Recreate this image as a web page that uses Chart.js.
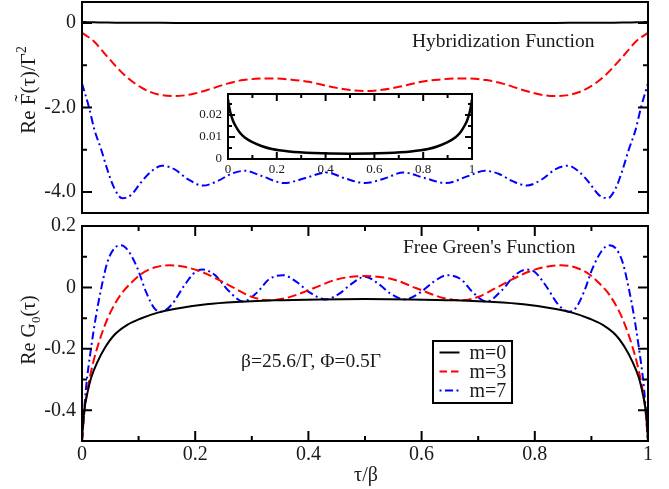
<!DOCTYPE html>
<html>
<head>
<meta charset="utf-8">
<script src="https://cdn.jsdelivr.net/npm/chart.js@4.4.0/dist/chart.umd.min.js"></script>
<style>
  html, body { margin:0; padding:0; background:#fff; }
  #wrap { position:relative; width:669px; height:489px; overflow:hidden; background:#fff; }
  canvas { position:absolute; }
</style>
</head>
<body>
<div id="wrap">
  <canvas id="chart-top" width="669" height="220" style="left:0;top:0;width:669px;height:220px"></canvas>
  <canvas id="chart-bot" width="669" height="274" style="left:0;top:215px;width:669px;height:274px"></canvas>
  <canvas id="chart-inset" width="300" height="100" style="left:180px;top:84px;width:300px;height:100px"></canvas>
</div>
<script>
// ---- data ----
// hybridization function, m=0 (also shown in the inset)
const F0_TAU = [0, 0.005, 0.01, 0.02, 0.03, 0.045, 0.06, 0.08, 0.1, 0.14, 0.18, 0.25, 0.35, 0.5,
                0.65, 0.75, 0.82, 0.86, 0.9, 0.92, 0.94, 0.955, 0.97, 0.98, 0.99, 0.995, 1]
const F0     = [0.027, 0.0235, 0.021, 0.0175, 0.0152, 0.0125, 0.0106, 0.0089, 0.0077, 0.0058, 0.0045, 0.0034, 0.0027, 0.0024,
                0.0027, 0.0034, 0.0045, 0.0058, 0.0077, 0.0089, 0.0106, 0.0125, 0.0152, 0.0175, 0.021, 0.0235, 0.027]
// m=3
const F3_TAU = [0, 0.02, 0.045, 0.075, 0.105, 0.135, 0.165, 0.195, 0.225, 0.255, 0.285, 0.333, 0.37, 0.4, 0.44, 0.47, 0.5,
                0.53, 0.56, 0.6, 0.63, 0.667, 0.715, 0.745, 0.775, 0.805, 0.835, 0.865, 0.895, 0.925, 0.955, 0.98, 1]
const F3     = [-0.23, -0.42, -0.8, -1.23, -1.53, -1.69, -1.73, -1.68, -1.57, -1.44, -1.35, -1.31, -1.34, -1.39, -1.51, -1.58, -1.61,
                -1.58, -1.51, -1.39, -1.34, -1.31, -1.35, -1.44, -1.57, -1.68, -1.73, -1.69, -1.53, -1.23, -0.8, -0.42, -0.23]
// m=7
const F7_TAU = [0, 0.012, 0.022, 0.034, 0.045, 0.057, 0.071, 0.087, 0.104, 0.122, 0.141, 0.163, 0.187, 0.214, 0.24, 0.264,
                0.288, 0.317, 0.357, 0.395, 0.432, 0.467, 0.5, 0.533, 0.568, 0.605, 0.643, 0.683, 0.712, 0.736, 0.76,
                0.786, 0.813, 0.837, 0.859, 0.878, 0.896, 0.913, 0.929, 0.943, 0.955, 0.966, 0.978, 0.988, 1]
const F7     = [-1.43, -1.98, -2.53, -3.0, -3.48, -3.91, -4.15, -4.07, -3.78, -3.52, -3.38, -3.46, -3.7, -3.85, -3.74, -3.57,
                -3.5, -3.62, -3.79, -3.67, -3.54, -3.69, -3.79, -3.69, -3.54, -3.67, -3.79, -3.62, -3.5, -3.57, -3.74,
                -3.85, -3.7, -3.46, -3.38, -3.52, -3.78, -4.07, -4.15, -3.91, -3.48, -3.0, -2.53, -1.98, -1.43]

// free Green's function
const G0_TAU = [0, 0.002, 0.004, 0.01, 0.016, 0.028, 0.04, 0.057, 0.08, 0.104, 0.134, 0.163, 0.22, 0.28, 0.34, 0.42, 0.5,
                0.58, 0.66, 0.72, 0.78, 0.837, 0.866, 0.896, 0.92, 0.943, 0.96, 0.972, 0.984, 0.99, 0.996, 0.998, 1]
const G0     = [-0.5, -0.44, -0.4, -0.34, -0.295, -0.24, -0.198, -0.155, -0.122, -0.101, -0.082, -0.07, -0.055, -0.047, -0.042, -0.039, -0.038,
                -0.039, -0.042, -0.047, -0.055, -0.07, -0.082, -0.101, -0.122, -0.155, -0.198, -0.24, -0.295, -0.34, -0.4, -0.44, -0.5]
const G3_TAU = [0, 0.004, 0.01, 0.019, 0.028, 0.04, 0.051, 0.069, 0.087, 0.104, 0.128, 0.154, 0.181, 0.211, 0.24, 0.27, 0.299, 0.33,
                0.36, 0.41, 0.45, 0.5, 0.55, 0.59, 0.64, 0.67, 0.701, 0.73, 0.76, 0.789, 0.819, 0.846, 0.872, 0.896,
                0.913, 0.931, 0.949, 0.96, 0.972, 0.981, 0.99, 0.996, 1]
const G3     = [-0.5, -0.41, -0.33, -0.25, -0.19, -0.125, -0.078, -0.022, 0.015, 0.043, 0.065, 0.072, 0.067, 0.051, 0.026, -0.003, -0.03, -0.042,
                -0.035, -0.002, 0.026, 0.037, 0.026, -0.002, -0.035, -0.042, -0.03, -0.003, 0.026, 0.051, 0.067, 0.072, 0.065, 0.043,
                0.015, -0.022, -0.078, -0.125, -0.19, -0.25, -0.33, -0.41, -0.5]
const G7_TAU = [0, 0.007, 0.016, 0.025, 0.034, 0.045, 0.057, 0.069, 0.081, 0.098, 0.113, 0.128, 0.14, 0.158, 0.181, 0.2, 0.214,
                0.235, 0.258, 0.285, 0.31, 0.33, 0.355, 0.379, 0.402, 0.43, 0.455, 0.475, 0.5, 0.525, 0.545, 0.57, 0.598,
                0.621, 0.645, 0.67, 0.69, 0.715, 0.742, 0.765, 0.786, 0.8, 0.819, 0.842, 0.86, 0.872, 0.887, 0.902, 0.919,
                0.931, 0.943, 0.955, 0.966, 0.975, 0.984, 0.993, 1]
const G7     = [-0.5, -0.33, -0.198, -0.09, -0.003, 0.083, 0.127, 0.137, 0.121, 0.062, -0.014, -0.068, -0.079, -0.057, 0.007, 0.05, 0.058,
                0.04, -0.009, -0.046, -0.015, 0.026, 0.04, 0.018, -0.016, -0.039, -0.02, 0.01, 0.035, 0.01, -0.02, -0.039, -0.016,
                0.018, 0.04, 0.026, -0.015, -0.046, -0.009, 0.04, 0.058, 0.05, 0.007, -0.057, -0.079, -0.068, -0.014, 0.062, 0.121,
                0.137, 0.127, 0.083, -0.003, -0.09, -0.198, -0.33, -0.5]

// ticks
const X_MAJOR     = [0, 0.2, 0.4, 0.6, 0.8, 1]
const X_MINOR     = [0.1, 0.3, 0.5, 0.7, 0.9]
const TOP_Y_MAJOR = [0, -2, -4]
const TOP_Y_MINOR = [-1, -3]
const BOT_Y_MAJOR = [0.2, 0, -0.2, -0.4]
const BOT_Y_MINOR = [0.1, -0.1, -0.3]
const INS_Y_MAJOR = [0, 0.01, 0.02]
const INS_Y_MINOR = [0.005, 0.015, 0.025]

const LEGEND = ['m=0', 'm=3', 'm=7']

const FONT = "'Liberation Serif', 'Times New Roman', serif"
const INK = '#1a1a1a'
const RED_DASH = [9, 4]
const BLUE_DASH = [8, 3.5, 2, 3.5]

const pts = (xs, ys) => xs.map((x, i) => ({ x, y: ys[i] }))
const line = (xs, ys, color, dash, label, w = 2) => ({
  label, data: pts(xs, ys), borderColor: color, borderDash: dash, borderWidth: w,
  pointRadius: 0, fill: false, cubicInterpolationMode: 'monotone',
})
const numLabel = d => v => v === 0 ? '0' : (v === 1 ? '1' : v.toFixed(d))

// frame with inward ticks on every side
const frame = {
  id: 'frame',
  afterDatasetsDraw(chart, args, o) {
    const { ctx, chartArea: a, scales: { x, y } } = chart
    ctx.save()
    ctx.strokeStyle = '#000'
    ctx.lineWidth = o.width
    ctx.setLineDash([])
    ctx.beginPath()
    const xt = (vals, len) => vals.forEach(v => {
      const p = x.getPixelForValue(v)
      ctx.moveTo(p, a.bottom); ctx.lineTo(p, a.bottom - len)
      ctx.moveTo(p, a.top);    ctx.lineTo(p, a.top + len)
    })
    const yt = (vals, len) => vals.forEach(v => {
      const p = y.getPixelForValue(v)
      ctx.moveTo(a.left, p);  ctx.lineTo(a.left + len, p)
      ctx.moveTo(a.right, p); ctx.lineTo(a.right - len, p)
    })
    xt(o.xMajor || [], o.major); xt(o.xMinor || [], o.minor)
    yt(o.yMajor || [], o.major); yt(o.yMinor || [], o.minor)
    ctx.stroke()
    ctx.strokeRect(a.left, a.top, a.right - a.left, a.bottom - a.top)
    ctx.restore()
  }
}

function drawRich(ctx, n) {
  const size = n.size
  const parts = typeof n.text === 'string' ? [{ t: n.text }] : n.text
  const fontOf = p => `${(p.sub || p.sup) ? size * 0.65 : size}px ${FONT}`
  let total = 0
  const widths = parts.map(p => { ctx.font = fontOf(p); const w = ctx.measureText(p.t).width; total += w; return w })
  ctx.save()
  ctx.translate(n.x, n.y)
  if (n.rot) ctx.rotate(n.rot)
  ctx.fillStyle = INK
  ctx.textBaseline = 'alphabetic'
  ctx.textAlign = 'left'
  let x = n.align === 'center' ? -total / 2 : 0
  const base = size * 0.33
  parts.forEach((p, i) => {
    ctx.font = fontOf(p)
    const dy = p.sub ? size * 0.25 : (p.sup ? -size * 0.42 : 0)
    ctx.fillText(p.t, x, base + dy)
    if (p.tilde) {
      ctx.font = `${size}px ${FONT}`
      ctx.textAlign = 'center'
      ctx.fillText('\u02DC', x + widths[i] / 2 + 1, base - size * 0.3)
      ctx.textAlign = 'left'
    }
    x += widths[i]
  })
  ctx.restore()
}

const notes = {
  id: 'notes',
  afterDraw(chart, args, o) {
    (o.items || []).forEach(n => drawRich(chart.ctx, n))
    if (o.legend) {
      const { ctx } = chart, L = o.legend
      ctx.save()
      ctx.fillStyle = '#fff'
      ctx.fillRect(L.x, L.y, L.w, L.h)
      ctx.strokeStyle = '#000'; ctx.lineWidth = 2; ctx.setLineDash([])
      ctx.strokeRect(L.x, L.y, L.w, L.h)
      chart.data.datasets.forEach((ds, i) => {
        const yy = L.y + L.row0 + i * L.step
        ctx.strokeStyle = ds.borderColor
        ctx.lineWidth = 2
        ctx.setLineDash(L.dashes[i])
        ctx.beginPath(); ctx.moveTo(L.x + 6.5, yy); ctx.lineTo(L.x + 26.5, yy); ctx.stroke()
        ctx.setLineDash([])
        ctx.fillStyle = INK
        ctx.font = `20px ${FONT}`
        ctx.textBaseline = 'middle'
        ctx.fillText(ds.label, L.x + 36.5, yy + 1)
      })
      ctx.restore()
    }
  }
}

const common = (padding) => ({
  responsive: false, animation: false, devicePixelRatio: 1,
  layout: { padding },
  plugins: { legend: { display: false }, tooltip: { enabled: false } },
})
const yScale = (min, max, major, width, d, size) => ({
  type: 'linear', min, max,
  afterFit: s => { s.width = width; s.paddingTop = 0; s.paddingBottom = 0 },
  afterBuildTicks: s => { s.ticks = major.map(v => ({ value: v })) },
  ticks: { callback: numLabel(d), font: { family: FONT, size }, color: INK, padding: 6 },
  grid: { display: false, drawTicks: false }, border: { display: false },
})
const xScale = (height, size, pad) => ({
  type: 'linear', min: 0, max: 1,
  afterFit: s => { s.height = height; s.paddingLeft = 0; s.paddingRight = 0 },
  afterBuildTicks: s => { s.ticks = X_MAJOR.map(v => ({ value: v })) },
  ticks: { callback: numLabel(1), font: { family: FONT, size }, color: INK, padding: pad, maxRotation: 0, autoSkip: false },
  grid: { display: false, drawTicks: false }, border: { display: false },
})

// top panel: hybridization function
const topOpts = common({ left: 0, top: 2, right: 21, bottom: 7 })
topOpts.plugins.frame = { width: 2, major: 10, minor: 5, yMajor: TOP_Y_MAJOR, yMinor: TOP_Y_MINOR }
topOpts.plugins.notes = { items: [
  { text: 'Hybridization Function', x: 412, y: 41, size: 19.5 },
  { text: [{ t: 'Re ' }, { t: 'F', tilde: true }, { t: '(\u03C4)/\u0393' }, { t: '2', sup: true }],
    x: 28, y: 90, size: 21, rot: -Math.PI / 2, align: 'center' },
] }
topOpts.scales = { x: { type: 'linear', min: 0, max: 1, display: false },
                   y: yScale(-4.5, 0.5, TOP_Y_MAJOR, 82, 1, 20) }
new Chart(document.getElementById('chart-top'), {
  type: 'line',
  data: { datasets: [
    line(F0_TAU, F0, '#000', [], 'm=0'),
    line(F3_TAU, F3, '#ff0000', RED_DASH, 'm=3'),
    line(F7_TAU, F7, '#0000ff', BLUE_DASH, 'm=7'),
  ] },
  options: topOpts,
  plugins: [frame, notes],
})

// inset: m=0 hybridization function close up
const insOpts = common({ left: 0, top: 10, right: 8, bottom: 0 })
insOpts.plugins.frame = { width: 2, major: 7, minor: 4, xMajor: X_MAJOR, xMinor: X_MINOR, yMajor: INS_Y_MAJOR, yMinor: INS_Y_MINOR }
insOpts.scales = { x: xScale(25, 13, 3), y: yScale(0, 0.0295, INS_Y_MAJOR, 48, 2, 13) }
new Chart(document.getElementById('chart-inset'), {
  type: 'line',
  data: { datasets: [ line(F0_TAU, F0, '#000', [], 'm=0', 2.5) ] },
  options: insOpts,
  plugins: [frame],
})

// bottom panel: free Green's function
const botOpts = common({ left: 0, top: 11, right: 21, bottom: 0 })
botOpts.plugins.frame = { width: 2, major: 10, minor: 5, xMajor: X_MAJOR, xMinor: X_MINOR, yMajor: BOT_Y_MAJOR, yMinor: BOT_Y_MINOR }
botOpts.plugins.notes = {
  items: [
    { text: "Free Green's Function", x: 403, y: 32, size: 19.5 },
    { text: '\u03B2=25.6/\u0393, \u03A6=0.5\u0393', x: 241, y: 146, size: 19.5 },
    { text: '\u03C4/\u03B2', x: 366, y: 259, size: 20, align: 'center' },
    { text: [{ t: 'Re G' }, { t: '0', sub: true }, { t: '(\u03C4)' }],
      x: 28, y: 115, size: 20, rot: -Math.PI / 2, align: 'center' },
  ],
  legend: { x: 433, y: 126, w: 79, h: 62, row0: 11.5, step: 19, dashes: [[], [7.5, 4], [2, 3.5, 8, 3.5]] },
}
botOpts.scales = { x: xScale(48, 20, 2), y: yScale(-0.5, 0.2, BOT_Y_MAJOR, 82, 1, 20) }
new Chart(document.getElementById('chart-bot'), {
  type: 'line',
  data: { datasets: [
    line(G0_TAU, G0, '#000', [], LEGEND[0]),
    line(G3_TAU, G3, '#ff0000', RED_DASH, LEGEND[1]),
    line(G7_TAU, G7, '#0000ff', BLUE_DASH, LEGEND[2]),
  ] },
  options: botOpts,
  plugins: [frame, notes],
})
</script>
</body>
</html>
